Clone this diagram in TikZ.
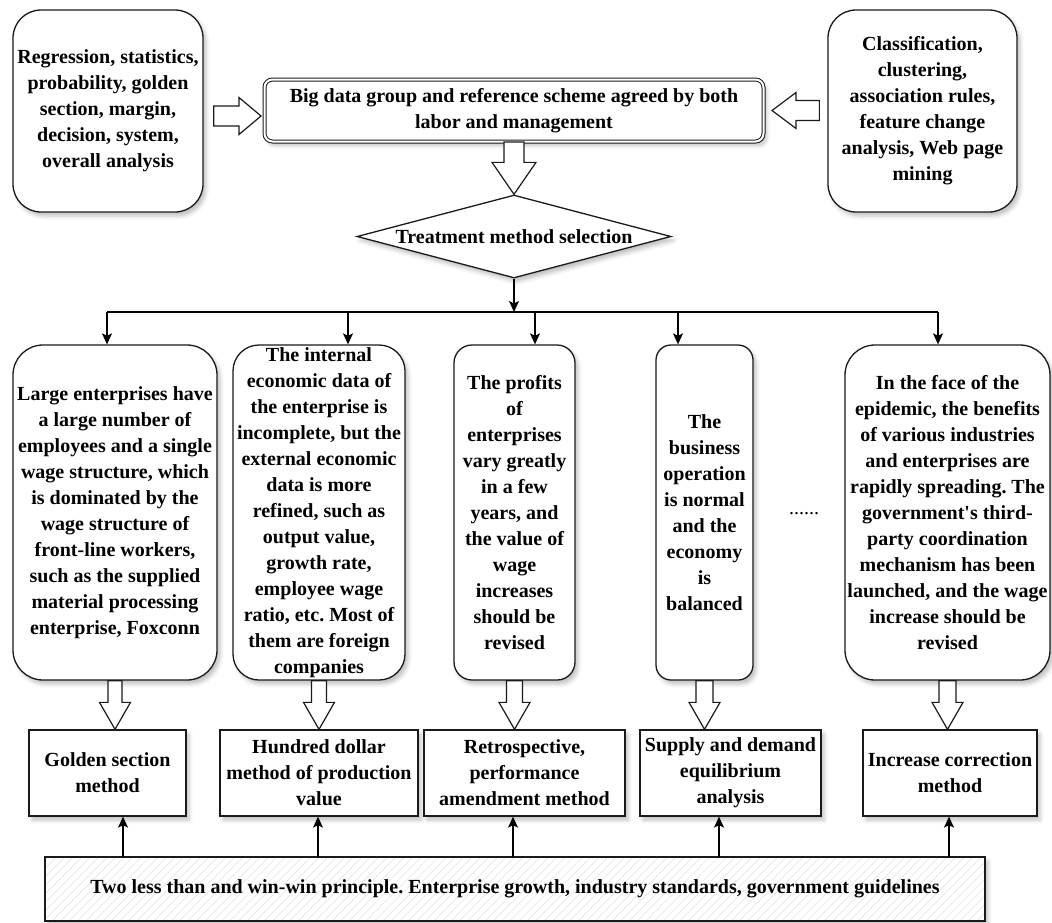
\documentclass[tikz,border=0pt]{standalone}
\usepackage{fontspec}
\setmainfont{Liberation Serif}
\usetikzlibrary{arrows.meta,calc,shapes.geometric,shadows.blur,patterns.meta}
\frenchspacing

\definecolor{ink}{HTML}{1A1A1A}

% hollow block arrow from #1 (tail) to #2 (tip);
% #3 half shaft width, #4 half head width, #5 head length
\newcommand\flowarrow[5]{%
  \path (#1) coordinate (fa-t) (#2) coordinate (fa-p);
  \coordinate (fa-h) at ($(fa-p)!#5!(fa-t)$);
  \draw[barrow] ($(fa-t)!#3!90:(fa-p)$) -- ($(fa-h)!#3!90:(fa-p)$)
    -- ($(fa-h)!#4!90:(fa-p)$) -- (fa-p) -- ($(fa-h)!#4!-90:(fa-p)$)
    -- ($(fa-h)!#3!-90:(fa-p)$) -- ($(fa-t)!#3!-90:(fa-p)$) -- cycle;}

\tikzset{
  txt/.style={font=\bfseries\fontsize{20}{26}\selectfont, align=center, inner sep=0pt, text=black},
  softshadow/.style={blur shadow={shadow xshift=3pt, shadow yshift=-4pt,
      shadow blur radius=4pt, shadow opacity=25}},
  card/.style={txt, draw=ink, line width=1.3pt, fill=white, softshadow, rounded corners=#1},
  card/.default=28pt,
  methodbox/.style={txt, draw=ink, line width=1.3pt, fill=white, softshadow,
      minimum height=86pt},
  agreed/.style={txt, draw=ink, line width=1pt, double=white, double distance=2pt,
      fill=white, softshadow, rounded corners=8pt},
  decision/.style={txt, diamond, aspect=3.8, draw=ink, line width=1.3pt, fill=white,
      softshadow, minimum width=314pt, minimum height=83pt},
  principle/.style={txt, softshadow, preaction={fill=white},
      pattern={Lines[angle=45,distance=6pt,line width=0.5pt]}, pattern color=black!12,
      draw=ink, line width=1.3pt},
  barrow/.style={draw=ink, line width=1.2pt, fill=white, line join=miter},
  link/.style={draw=black, line width=1.3pt, -{Stealth[length=11pt,width=10pt,inset=2.5pt]}},
  bar/.style={draw=black, line width=1.3pt},
}

\begin{document}
\begin{tikzpicture}[x=1pt, y=-1pt]
\useasboundingbox (0,0) rectangle (1052,922);

% ---- top row: data sources and the agreed scheme
\node[card, minimum width=190pt, minimum height=202pt] (tl) at (108,111)
  {Regression, statistics,\\probability, golden\\section, margin,\\decision, system,\\overall analysis};
\node[card, minimum width=189pt, minimum height=202pt] (tr) at (922.5,111)
  {Classification,\\clustering,\\association rules,\\feature change\\analysis, Web page\\mining};
\node[agreed, minimum width=499pt, minimum height=62pt] (cb) at (514,110.5)
  {Big data group and reference scheme agreed by both\\labor and management};

\node[decision] (dia) at (514,236.5) {Treatment method selection};

% ---- situations
\node[card=30pt, minimum width=204pt, minimum height=335pt] (m1) at (115,512.5)
  {Large enterprises have\\a large number of\\employees and a single\\wage structure, which\\is dominated by the\\wage structure of\\front-line workers,\\such as the supplied\\material processing\\enterprise, Foxconn};
\node[card=26pt, minimum width=172pt, minimum height=335pt] (m2) at (319,512.5)
  {The internal\\economic data of\\the enterprise is\\incomplete, but the\\external economic\\data is more\\refined, such as\\output value,\\growth rate,\\employee wage\\ratio, etc. Most of\\them are foreign\\companies};
\node[card=18pt, minimum width=121pt, minimum height=335pt] (m3) at (514.5,512.5)
  {The profits\\of\\enterprises\\vary greatly\\in a few\\years, and\\the value of\\wage\\increases\\should be\\revised};
\node[card=15pt, minimum width=97pt, minimum height=335pt] (m4) at (704.5,512.5)
  {The\\business\\operation\\is normal\\and the\\economy\\is\\balanced};
\node[card=30pt, minimum width=205pt, minimum height=335pt] (m5) at (947.5,512.5)
  {In the face of the\\epidemic, the benefits\\of various industries\\and enterprises are\\rapidly spreading. The\\government\textquotesingle s third-\\party coordination\\mechanism has been\\launched, and the wage\\increase should be\\revised};
\node[txt, font=\fontsize{20}{26}\selectfont] (dots) at (804,514) {......};

% ---- methods
\node[methodbox, minimum width=157pt] (bA) at (107.5,773) {Golden section\\method};
\node[methodbox, minimum width=198pt] (bB) at (319,773) {Hundred dollar\\method of production\\value};
\node[methodbox, minimum width=201pt] (bC) at (524.5,773) {Retrospective,\\performance\\amendment method};
\node[methodbox, minimum width=181pt] (bD) at (730.5,773) {Supply and demand\\equilibrium\\analysis};
\node[methodbox, minimum width=174pt] (bE) at (950,773) {Increase correction\\method};

% ---- guiding principle
\node[principle, minimum width=940pt, minimum height=64pt] (base) at (515,889)
  {Two less than and win-win principle. Enterprise growth, industry standards, government guidelines};

% ---- block arrows
\flowarrow{$(tl.east)+(10,5)$}{$(cb.west)+(-3,5.5)$}{10pt}{18.5pt}{22pt}
\flowarrow{$(tr.west)+(-8,-0.5)$}{$(cb.east)+(8,0)$}{10pt}{18pt}{24pt}
\flowarrow{cb.south}{dia.north}{10pt}{22pt}{32pt}
\flowarrow{m1.south}{m1.south |- bA.north}{7pt}{15.5pt}{27pt}
\flowarrow{m2.south}{m2.south |- bB.north}{7.5pt}{15.5pt}{27pt}
\flowarrow{m3.south}{m3.south |- bC.north}{8pt}{15.5pt}{27pt}
\flowarrow{m4.south}{m4.south |- bD.north}{8.5pt}{15.5pt}{27pt}
\flowarrow{m5.south}{m5.south |- bE.north}{8.5pt}{15.5pt}{27pt}

% ---- distribution from the decision
\coordinate (split) at (514,312);
\coordinate (t1) at (107,312);
\coordinate (t2) at (348,312);
\coordinate (t3) at (535,312);
\coordinate (t4) at (678,312);
\coordinate (t5) at (938,312);
\draw[link] (dia.south) -- (split);
\draw[bar] (t1) -- (t5);
\draw[link] (t1) -- (t1 |- m1.north);
\draw[link] (t2) -- (t2 |- m2.north);
\draw[link] (t3) -- (t3 |- m3.north);
\draw[link] (t4) -- (t4 |- m4.north);
\draw[link] (t5) -- (t5 |- m5.north);

% ---- principle feeding each method
\coordinate (u1) at (123,857);
\coordinate (u2) at (318,857);
\coordinate (u3) at (513,857);
\coordinate (u4) at (719,857);
\coordinate (u5) at (949,857);
\draw[link] (u1) -- (u1 |- bA.south);
\draw[link] (u2) -- (u2 |- bB.south);
\draw[link] (u3) -- (u3 |- bC.south);
\draw[link] (u4) -- (u4 |- bD.south);
\draw[link] (u5) -- (u5 |- bE.south);
\end{tikzpicture}
\end{document}
